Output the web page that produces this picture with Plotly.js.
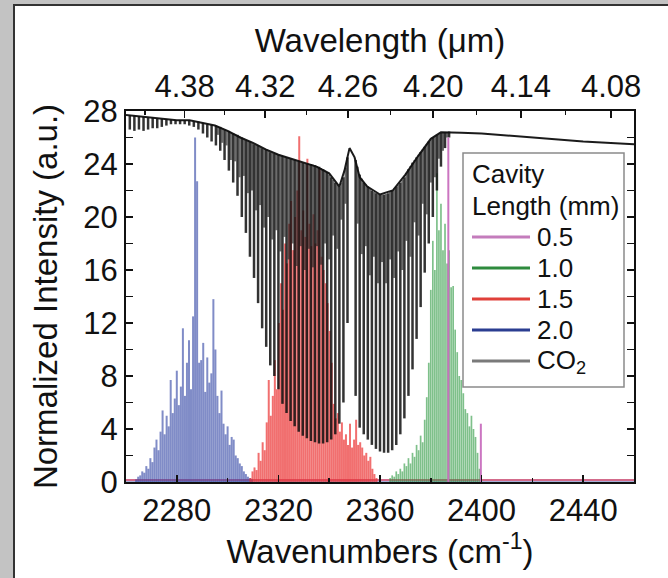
<!DOCTYPE html>
<html>
<head>
<meta charset="utf-8">
<script src="https://cdn.plot.ly/plotly-3.0.1.min.js"></script>
<style>html,body{margin:0;padding:0;background:#c3c3c3;}#chart{width:668px;height:578px;}</style>
</head>
<body>
<div id="chart"></div>
<script>
// ---------------- data ----------------
const wnTicks = [2280, 2320, 2360, 2400, 2440];
const wnMinorTicks = [2300, 2340, 2380, 2420];
const wlTickLabels = ['4.38', '4.32', '4.26', '4.20', '4.14', '4.08'];
const wlMinorLabels = [4.41, 4.35, 4.29, 4.23, 4.17, 4.11];
const yTicks = [0, 4, 8, 12, 16, 20, 24, 28];

const legendTitle = ['Cavity', 'Length (mm)'];
const legendLabels = ['0.5', '1.0', '1.5', '2.0', 'CO<sub>2</sub>'];
const legendColors = ['#c47cbc', '#2e8b3e', '#e0403a', '#2b3d91', '#7a7a7a'];

// 2.0 mm cavity (blue)
const blueWn = [2264.0,2264.8,2265.6,2266.4,2267.2,2268.0,2268.8,2269.6,2270.4,2271.2,2272.0,2272.8,2273.6,2274.4,2275.2,2276.0,2276.8,2277.6,2278.4,2279.2,2280.0,2280.8,2281.6,2282.4,2283.2,2284.0,2284.8,2285.6,2286.4,2287.2,2288.0,2288.8,2289.6,2290.4,2291.2,2292.0,2292.8,2293.6,2294.4,2295.2,2296.0,2296.8,2297.6,2298.4,2299.2,2300.0,2300.8,2301.6,2302.4,2303.2,2304.0,2304.8,2305.6,2306.4,2307.2,2308.0,2308.8,2309.6];
const blueVal = [0.2,0.4,0.5,0.8,0.7,1.2,1.0,1.8,1.5,2.6,3.2,2.4,3.8,5.4,3.6,5.0,4.2,7.7,5.2,6.3,8.4,5.8,7.2,11.6,6.5,9.0,10.7,7.0,12.5,26.0,22.7,9.0,9.2,10.5,6.8,9.4,7.5,8.2,13.8,10.0,6.5,5.2,6.9,4.4,3.6,4.2,2.8,3.4,3.2,2.0,1.8,1.4,1.2,0.8,0.6,0.4,0.3,0.2];

// 1.5 mm cavity (red)
const redWn = [2309.0,2309.8,2310.6,2311.4,2312.2,2313.0,2313.8,2314.6,2315.4,2316.2,2317.0,2317.8,2318.6,2319.4,2320.2,2321.0,2321.8,2322.6,2323.4,2324.2,2325.0,2325.8,2326.6,2327.4,2328.2,2329.0,2329.8,2330.6,2331.4,2332.2,2333.0,2333.8,2334.6,2335.4,2336.2,2337.0,2337.8,2338.6,2339.4,2340.2,2341.0,2341.8,2342.6,2343.4,2344.2,2345.0,2345.8,2346.6,2347.4,2348.2,2349.0,2349.8,2350.6,2351.4,2352.2,2353.0,2353.8,2354.6,2355.4,2356.2,2357.0,2357.8,2358.6];
const redVal = [0.3,0.8,1.1,0.9,2.2,1.6,3.0,2.4,4.5,7.7,5.0,6.5,9.2,7.0,12.0,15.0,13.0,18.0,16.5,19.5,21.2,17.5,20.0,22.0,26.1,19.0,20.5,18.5,24.4,19.5,17.8,20.2,18.0,19.0,23.7,17.0,16.0,15.0,13.5,11.4,9.0,5.9,4.8,5.2,3.8,4.5,3.2,3.6,2.8,4.4,2.6,3.2,4.7,2.8,3.0,2.6,2.0,2.2,1.6,1.9,1.0,0.6,0.3];

// 1.0 mm cavity (green)
const greenWn = [2364.0,2364.8,2365.6,2366.4,2367.2,2368.0,2368.8,2369.6,2370.4,2371.2,2372.0,2372.8,2373.6,2374.4,2375.2,2376.0,2376.8,2377.6,2378.4,2379.2,2380.0,2380.8,2381.6,2382.4,2383.2,2384.0,2384.8,2385.6,2386.4,2387.2,2388.0,2388.8,2389.6,2390.4,2391.2,2392.0,2392.8,2393.6,2394.4,2395.2,2396.0,2396.8,2397.6,2398.4,2399.2];
const greenVal = [0.3,0.5,0.4,0.8,0.6,1.0,0.8,1.4,1.2,1.8,1.4,2.2,1.9,2.8,2.4,3.5,3.0,4.7,6.4,9.0,14.5,18.2,16.0,23.3,19.0,21.0,17.5,19.5,16.5,17.5,14.7,14.8,11.5,9.8,8.0,7.7,6.7,5.5,5.2,4.2,5.0,4.0,3.4,2.2,1.0];

// 0.5 mm cavity (magenta)
const pinkWn = [2386.9, 2399.7];
const pinkVal = [26.0, 4.4];

// baseline noise level of the laser spectra
const baseWn = [2260, 2460];
const baseVal = [0.15, 0.15];

// CO2 transmission: continuum envelope
const co2EnvWn = [2260,2265,2270,2275,2280,2285,2290,2295,2300,2305,2310,2315,2320,2325,2330,2335,2340,2344,2346,2348,2350,2352,2355,2360,2365,2370,2375,2380,2384,2388,2392,2400,2420,2440,2460];
const co2EnvVal = [27.7,27.6,27.5,27.4,27.3,27.3,27.1,26.9,26.5,26.0,25.6,25.1,24.7,24.4,24.1,23.8,23.3,22.3,23.5,25.2,24.5,23.0,22.3,21.7,22.0,23.2,24.6,25.9,26.4,26.4,26.35,26.3,26.0,25.7,25.5];
// strong CO2 absorption lines: position, top and bottom of each dip
const co2LineWn = [2261.5,2263.3,2265.1,2266.9,2268.7,2270.5,2272.3,2274.1,2275.9,2277.7,2279.5,2281.3,2283.1,2284.9,2286.7,2288.5,2290.3,2292.0,2293.7,2295.4,2297.1,2298.8,2300.5,2302.2,2303.9,2305.6,2307.2,2308.8,2310.4,2312.0,2313.6,2315.2,2316.8,2318.4,2320.0,2321.6,2323.2,2324.8,2326.4,2328.0,2329.6,2331.2,2332.8,2334.4,2336.0,2337.6,2339.2,2340.8,2342.4,2344.0,2345.6,2347.2,2350.4,2352.0,2353.6,2355.2,2356.8,2358.4,2360.0,2361.6,2363.2,2364.8,2366.4,2368.0,2369.6,2371.2,2372.8,2374.4,2376.0,2377.6,2379.2,2380.8,2382.4,2384.0,2385.6,2387.2];
const co2LineTop = [27.7,27.65,27.6,27.55,27.5,27.5,27.45,27.4,27.4,27.35,27.3,27.3,27.3,27.3,27.2,27.2,27.1,27.0,26.95,26.9,26.8,26.6,26.5,26.3,26.2,26.0,25.8,25.7,25.5,25.4,25.2,25.1,24.9,24.8,24.7,24.6,24.5,24.4,24.3,24.2,24.1,24.0,24.0,23.9,23.8,23.6,23.4,23.0,22.6,22.3,23.0,24.5,24.3,23.2,22.6,22.3,22.0,21.8,21.7,21.7,21.8,22.0,22.3,22.6,23.0,23.6,24.1,24.5,24.9,25.3,25.7,26.0,26.2,26.35,26.4,26.45];
const co2LineBottom = [26.6,26.5,26.6,26.5,26.6,26.7,26.7,26.8,26.9,27.0,27.0,27.0,27.0,26.9,26.8,26.6,26.3,26.0,25.7,25.4,25.0,24.3,23.5,22.6,21.6,20.0,18.8,17.0,15.4,13.5,11.6,10.2,8.8,8.0,7.0,5.9,5.2,4.6,4.2,3.8,3.5,3.3,3.1,3.0,2.9,2.9,3.0,3.2,3.6,4.4,6.0,12.0,6.5,4.1,3.6,3.2,2.8,2.5,2.3,2.2,2.2,2.4,2.8,3.6,4.8,6.5,8.5,10.8,13.2,15.8,18.0,20.0,22.0,23.8,25.2,26.0];
// weaker (hot band) CO2 lines between the strong ones
const co2HotWn = [2296.2,2297.9,2299.6,2301.3,2303.0,2304.7,2306.4,2308.0,2309.6,2311.2,2312.8,2314.4,2316.0,2317.6,2319.2,2320.8,2322.4,2324.0,2325.6,2327.2,2328.8,2330.4,2332.0,2333.6,2335.2,2336.8,2338.4,2340.0,2341.6,2343.2,2344.8,2346.4,2351.2,2352.8,2354.4,2356.0,2357.6,2359.2,2360.8,2362.4,2364.0,2365.6,2367.2,2368.8,2370.4,2372.0,2373.6,2375.2,2376.8,2378.4,2380.0,2381.6,2383.2,2384.8,2386.4];
const co2HotTop = [26.85,26.7,26.55,26.4,26.25,26.1,25.9,25.75,25.6,25.45,25.3,25.15,25.0,24.85,24.75,24.65,24.55,24.45,24.35,24.25,24.15,24.05,24.0,23.95,23.85,23.7,23.5,23.2,22.8,22.45,22.6,23.7,23.8,22.9,22.45,22.15,21.9,21.75,21.7,21.75,21.9,22.15,22.45,22.8,23.3,23.85,24.3,24.7,25.1,25.5,25.85,26.1,26.3,26.4,26.4];
const co2HotBottom = [26.2,25.6,25.4,24.3,24.2,23.0,23.1,21.8,22.0,20.5,20.9,19.2,20.0,18.3,19.0,17.4,18.5,16.8,18.0,16.3,17.8,16.0,17.6,16.2,17.8,16.4,18.0,16.8,18.6,17.6,19.8,21.0,19.5,17.2,17.8,15.6,17.0,15.0,16.6,15.0,16.8,15.4,17.4,16.0,18.2,17.0,19.6,18.6,21.0,20.2,22.6,23.0,24.4,25.0,26.0];

// ---------------- helpers ----------------
function spikes(wn, vals) {
  const x = [], y = [];
  for (let i = 0; i < wn.length; i++) { x.push(wn[i], wn[i], null); y.push(0, vals[i], null); }
  return {x, y};
}
function dips(wn, top, bottom) {
  const x = [], y = [];
  for (let i = 0; i < wn.length; i++) { x.push(wn[i], wn[i], null); y.push(top[i], bottom[i], null); }
  return {x, y};
}

const blueS = spikes(blueWn, blueVal);
const redS = spikes(redWn, redVal);
const greenS = spikes(greenWn, greenVal);
const pinkS = spikes(pinkWn, pinkVal);
const co2D = dips(co2LineWn, co2LineTop, co2LineBottom);
const co2H = dips(co2HotWn, co2HotTop, co2HotBottom);

const traces = [
  {x: baseWn, y: baseVal, mode: 'lines', line: {color: 'rgba(200,70,110,0.8)', width: 2}, hoverinfo: 'skip'},
  {x: baseWn, y: [0, 0], mode: 'lines', line: {color: 'rgba(60,80,170,0.9)', width: 1.2}, hoverinfo: 'skip'},
  {x: blueS.x, y: blueS.y, mode: 'lines', line: {color: 'rgba(50,70,165,0.62)', width: 2}, hoverinfo: 'skip'},
  {x: redS.x, y: redS.y, mode: 'lines', line: {color: 'rgba(235,50,50,0.7)', width: 2}, hoverinfo: 'skip'},
  {x: greenS.x, y: greenS.y, mode: 'lines', line: {color: 'rgba(40,150,60,0.6)', width: 1.7}, hoverinfo: 'skip'},
  {x: co2H.x, y: co2H.y, mode: 'lines', line: {color: 'rgba(45,45,45,0.7)', width: 2}, hoverinfo: 'skip'},
  {x: co2D.x, y: co2D.y, mode: 'lines', line: {color: 'rgba(15,15,15,0.85)', width: 2.5}, hoverinfo: 'skip'},
  {x: co2EnvWn, y: co2EnvVal, mode: 'lines', line: {color: 'rgba(15,15,15,0.95)', width: 2}, hoverinfo: 'skip'},
  {x: pinkS.x, y: pinkS.y, mode: 'lines', line: {color: 'rgba(200,110,190,0.95)', width: 2}, hoverinfo: 'skip'},
  {x: [null], y: [null], xaxis: 'x2', mode: 'lines', hoverinfo: 'skip'}
];

const tickFont = {family: '"Liberation Sans Narrow", "Arial Narrow", "Liberation Sans", Arial, sans-serif', size: 31, color: '#111'};
const titleFont = {family: '"Liberation Sans", Arial, sans-serif', size: 33, color: '#111'};
const legFont = {family: '"Liberation Sans", Arial, sans-serif', size: 26, color: '#111'};

// pixel -> paper helpers for the legend box (plot area 126..634 x 111..482)
const px = v => (v - 126) / 508;
const py = v => (482 - v) / 371;

const shapes = [
  {type: 'rect', xref: 'paper', yref: 'paper', layer: 'below',
   x0: px(14), x1: 1.3, y0: -0.4, y1: py(5),
   fillcolor: '#ffffff', line: {color: '#333333', width: 2}},
  {type: 'rect', xref: 'paper', yref: 'paper', layer: 'above',
   x0: px(463), x1: px(624), y0: py(387), y1: py(153),
   fillcolor: '#ffffff', line: {color: '#8a8a8a', width: 1.5}}
];
const annotations = [];
annotations.push({xref: 'paper', yref: 'paper', x: px(470), y: py(174), xanchor: 'left', yanchor: 'middle', showarrow: false, text: legendTitle[0], font: legFont});
annotations.push({xref: 'paper', yref: 'paper', x: px(470), y: py(206), xanchor: 'left', yanchor: 'middle', showarrow: false, text: legendTitle[1], font: legFont});
const entryY = [237, 268, 299, 330, 361];
legendLabels.forEach((lab, i) => {
  shapes.push({type: 'line', xref: 'paper', yref: 'paper', layer: 'above',
    x0: px(472), x1: px(530), y0: py(entryY[i]), y1: py(entryY[i]),
    line: {color: legendColors[i], width: 3}});
  annotations.push({xref: 'paper', yref: 'paper', x: px(535), y: py(entryY[i]), xanchor: 'left', yanchor: 'middle',
    showarrow: false, text: lab, font: legFont});
});

const layout = {
  width: 668, height: 578,
  margin: {l: 126, r: 34, t: 111, b: 96},
  paper_bgcolor: '#c3c3c3',
  plot_bgcolor: '#ffffff',
  showlegend: false,
  shapes: shapes,
  annotations: annotations,
  xaxis: {
    range: [2260, 2460], tickmode: 'array', tickvals: wnTicks,
    ticks: 'inside', ticklen: 7, tickwidth: 1.5, tickcolor: '#111',
    minor: {tickmode: 'array', tickvals: wnMinorTicks, ticks: 'inside', ticklen: 4, tickwidth: 1.5, tickcolor: '#111'},
    showline: true, linecolor: '#111', linewidth: 2, mirror: false,
    showgrid: false, zeroline: false, tickfont: tickFont,
    title: {text: 'Wavenumbers (cm<sup>-1</sup>)', font: titleFont, standoff: 4}
  },
  xaxis2: {
    overlaying: 'x', side: 'top', anchor: 'y', matches: 'x',
    range: [2260, 2460], tickmode: 'array',
    tickvals: wlTickLabels.map(s => 1e4 / parseFloat(s)), ticktext: wlTickLabels,
    ticks: 'inside', ticklen: 7, tickwidth: 1.5, tickcolor: '#111',
    minor: {tickmode: 'array', tickvals: wlMinorLabels.map(w => 1e4 / w), ticks: 'inside', ticklen: 4, tickwidth: 1.5, tickcolor: '#111'},
    showline: true, linecolor: '#111', linewidth: 2,
    showgrid: false, zeroline: false, tickfont: tickFont,
    title: {text: 'Wavelength (\u03bcm)', font: titleFont, standoff: 6}
  },
  yaxis: {
    range: [0, 28], tickmode: 'array', tickvals: yTicks,
    ticks: 'inside', ticklen: 7, tickwidth: 1.5, tickcolor: '#111',
    minor: {dtick: 2, tick0: 0, ticks: 'inside', ticklen: 4, tickwidth: 1.5, tickcolor: '#111'},
    showline: true, linecolor: '#111', linewidth: 2, mirror: 'allticks',
    showgrid: false, zeroline: false, tickfont: tickFont,
    title: {text: 'Normalized Intensity (a.u.)', font: titleFont, standoff: 16}
  }
};

Plotly.newPlot('chart', traces, layout, {displayModeBar: false, staticPlot: true});
</script>
</body>
</html>
